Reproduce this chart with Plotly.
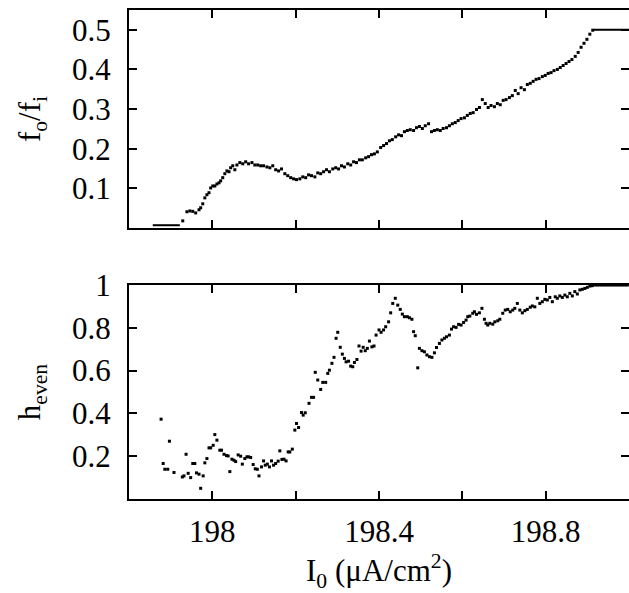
import plotly.graph_objects as go

# ---------------- data ----------------
top_x = [197.929, 197.939, 197.946, 197.953, 197.960, 197.968, 197.972, 197.977, 197.982, 197.987,
         197.992, 197.996, 198.001, 198.006, 198.011, 198.016, 198.020, 198.025, 198.030, 198.035,
         198.040, 198.044, 198.049, 198.054, 198.059, 198.066, 198.073, 198.080, 198.087, 198.095,
         198.102, 198.109, 198.116, 198.123, 198.131, 198.138, 198.145, 198.152, 198.159, 198.166,
         198.174, 198.181, 198.188, 198.195, 198.202, 198.210, 198.217, 198.224, 198.231, 198.238,
         198.246, 198.253, 198.260, 198.267, 198.274, 198.281, 198.289, 198.296, 198.303, 198.310,
         198.317, 198.325, 198.332, 198.339, 198.346, 198.353, 198.360, 198.368, 198.375, 198.382,
         198.389, 198.396, 198.404, 198.411, 198.418, 198.425, 198.432, 198.440, 198.447, 198.454,
         198.461, 198.468, 198.475, 198.483, 198.490, 198.497, 198.504, 198.511, 198.519, 198.526,
         198.533, 198.540, 198.547, 198.554, 198.562, 198.569, 198.576, 198.583, 198.590, 198.597,
         198.605, 198.612, 198.619, 198.626, 198.634, 198.641, 198.648, 198.655, 198.662, 198.669,
         198.677, 198.684, 198.691, 198.698, 198.705, 198.713, 198.720, 198.727, 198.734, 198.741,
         198.749, 198.756, 198.763, 198.770, 198.777, 198.784, 198.792, 198.799, 198.806, 198.813,
         198.820, 198.828, 198.835, 198.842, 198.849, 198.856, 198.863, 198.871, 198.878, 198.885,
         198.892, 198.899, 198.906, 198.913]
top_y = [0.018, 0.041, 0.043, 0.042, 0.038, 0.046, 0.051, 0.061, 0.076, 0.084,
         0.089, 0.101, 0.106, 0.106, 0.111, 0.114, 0.119, 0.127, 0.137, 0.144,
         0.142, 0.152, 0.157, 0.147, 0.159, 0.165, 0.162, 0.167, 0.162, 0.165,
         0.159, 0.159, 0.157, 0.157, 0.154, 0.152, 0.157, 0.147, 0.144, 0.149,
         0.137, 0.132, 0.127, 0.124, 0.122, 0.124, 0.129, 0.127, 0.134, 0.132,
         0.129, 0.139, 0.137, 0.142, 0.147, 0.142, 0.149, 0.152, 0.149, 0.157,
         0.154, 0.162, 0.159, 0.167, 0.165, 0.172, 0.172, 0.177, 0.180, 0.185,
         0.187, 0.192, 0.203, 0.208, 0.213, 0.220, 0.223, 0.230, 0.235, 0.233,
         0.243, 0.246, 0.248, 0.246, 0.253, 0.256, 0.251, 0.258, 0.263, 0.243,
         0.246, 0.248, 0.246, 0.251, 0.253, 0.258, 0.263, 0.266, 0.271, 0.276,
         0.278, 0.284, 0.289, 0.291, 0.299, 0.304, 0.324, 0.314, 0.304, 0.309,
         0.306, 0.314, 0.311, 0.322, 0.324, 0.329, 0.334, 0.347, 0.339, 0.354,
         0.349, 0.362, 0.365, 0.370, 0.375, 0.377, 0.382, 0.385, 0.390, 0.392,
         0.397, 0.400, 0.405, 0.410, 0.415, 0.420, 0.425, 0.433, 0.443, 0.456,
         0.466, 0.476, 0.489, 0.499]
top_low_flat_x = [197.857, 197.922]
top_low_flat_y = [0.007, 0.007]
top_high_flat_x = [198.916, 199.0]
top_high_flat_y = [0.5, 0.5]

bot_x = [197.877, 197.882, 197.886, 197.893, 197.897, 197.908, 197.928, 197.932, 197.937, 197.942,
         197.948, 197.953, 197.958, 197.962, 197.968, 197.972, 197.978, 197.982, 197.987, 197.992,
         197.996, 198.002, 198.006, 198.011, 198.018, 198.022, 198.028, 198.034, 198.038, 198.042,
         198.047, 198.052, 198.056, 198.062, 198.068, 198.072, 198.078, 198.083, 198.087, 198.092,
         198.098, 198.103, 198.108, 198.112, 198.118, 198.123, 198.127, 198.132, 198.137, 198.142,
         198.147, 198.152, 198.158, 198.162, 198.167, 198.172, 198.177, 198.182, 198.186, 198.192,
         198.198, 198.202, 198.207, 198.214, 198.218, 198.223, 198.232, 198.238, 198.243, 198.247,
         198.253, 198.260, 198.265, 198.272, 198.277, 198.281, 198.287, 198.292, 198.297, 198.301,
         198.307, 198.312, 198.317, 198.321, 198.327, 198.332, 198.337, 198.341, 198.347, 198.352,
         198.357, 198.362, 198.367, 198.372, 198.377, 198.383, 198.388, 198.393, 198.400, 198.405,
         198.411, 198.416, 198.423, 198.428, 198.433, 198.439, 198.445, 198.451, 198.456, 198.461,
         198.468, 198.473, 198.479, 198.483, 198.487, 198.493, 198.497, 198.503, 198.509, 198.515,
         198.521, 198.527, 198.533, 198.538, 198.545, 198.551, 198.557, 198.562, 198.569, 198.574,
         198.579, 198.585, 198.591, 198.597, 198.603, 198.609, 198.613, 198.618, 198.625, 198.629,
         198.634, 198.641, 198.647, 198.653, 198.657, 198.661, 198.666, 198.673, 198.678, 198.685,
         198.690, 198.697, 198.703, 198.709, 198.715, 198.721, 198.726, 198.732, 198.738, 198.744,
         198.750, 198.756, 198.763, 198.768, 198.774, 198.780, 198.786, 198.792, 198.798, 198.804,
         198.810, 198.816, 198.823, 198.828, 198.834, 198.840, 198.846, 198.852, 198.858, 198.864,
         198.870, 198.876, 198.882, 198.888, 198.894, 198.900, 198.906, 198.912, 198.918, 198.924,
         198.930, 198.936, 198.942, 198.948, 198.954, 198.960, 198.966, 198.972, 198.978, 198.984,
         198.990, 198.996]
bot_y = [0.373, 0.166, 0.139, 0.139, 0.270, 0.124, 0.103, 0.108, 0.209, 0.120,
         0.100, 0.166, 0.166, 0.122, 0.116, 0.050, 0.108, 0.169, 0.189, 0.239,
         0.239, 0.251, 0.301, 0.275, 0.228, 0.228, 0.209, 0.203, 0.201, 0.128,
         0.186, 0.181, 0.175, 0.206, 0.200, 0.163, 0.189, 0.197, 0.197, 0.194,
         0.161, 0.141, 0.139, 0.108, 0.150, 0.178, 0.158, 0.163, 0.150, 0.178,
         0.158, 0.166, 0.177, 0.225, 0.185, 0.186, 0.178, 0.220, 0.220, 0.233,
         0.322, 0.353, 0.334, 0.404, 0.392, 0.403, 0.447, 0.475, 0.475, 0.592,
         0.556, 0.512, 0.545, 0.545, 0.587, 0.602, 0.634, 0.662, 0.751, 0.779,
         0.709, 0.677, 0.657, 0.641, 0.644, 0.621, 0.618, 0.638, 0.652, 0.715,
         0.691, 0.709, 0.693, 0.704, 0.738, 0.711, 0.715, 0.766, 0.790, 0.779,
         0.790, 0.805, 0.828, 0.870, 0.914, 0.938, 0.906, 0.886, 0.864, 0.852,
         0.852, 0.847, 0.840, 0.782, 0.763, 0.613, 0.704, 0.693, 0.688, 0.673,
         0.665, 0.662, 0.683, 0.708, 0.727, 0.743, 0.751, 0.758, 0.766, 0.794,
         0.805, 0.802, 0.816, 0.813, 0.825, 0.836, 0.852, 0.855, 0.868, 0.875,
         0.863, 0.870, 0.891, 0.840, 0.821, 0.813, 0.821, 0.817, 0.828, 0.833,
         0.840, 0.868, 0.883, 0.886, 0.875, 0.883, 0.891, 0.914, 0.883, 0.870,
         0.880, 0.886, 0.896, 0.902, 0.898, 0.938, 0.914, 0.922, 0.933, 0.930,
         0.942, 0.922, 0.945, 0.938, 0.949, 0.942, 0.953, 0.945, 0.961, 0.949,
         0.969, 0.958, 0.977, 0.980, 0.984, 0.989, 0.995, 0.997, 1.0, 1.0,
         1.0, 1.0, 1.0, 1.0, 1.0, 1.0, 1.0, 1.0, 1.0, 1.0,
         1.0, 1.0]

x_tickvals = [198.0, 198.2, 198.4, 198.6, 198.8]
x_ticktext = ["198", "", "198.4", "", "198.8"]
top_tickvals = [0.1, 0.2, 0.3, 0.4, 0.5]
top_ticktext = ["0.1", "0.2", "0.3", "0.4", "0.5"]
bot_tickvals = [0.2, 0.4, 0.6, 0.8, 1.0]
bot_ticktext = ["0.2", "0.4", "0.6", "0.8", "1"]

FONT = "Liberation Serif"
FS = 31

marker = dict(symbol="square", size=3, color="black", line=dict(width=0))

fig = go.Figure()
fig.add_trace(go.Scatter(x=top_x, y=top_y, mode="markers", marker=marker, xaxis="x", yaxis="y"))
fig.add_trace(go.Scatter(x=top_low_flat_x, y=top_low_flat_y, mode="lines",
                         line=dict(color="black", width=2), xaxis="x", yaxis="y"))
fig.add_trace(go.Scatter(x=top_high_flat_x, y=top_high_flat_y, mode="lines",
                         line=dict(color="black", width=2), xaxis="x", yaxis="y"))
fig.add_trace(go.Scatter(x=bot_x, y=bot_y, mode="markers", marker=marker, xaxis="x2", yaxis="y2"))
# empty traces to carry the right-hand tick axes
fig.add_trace(go.Scatter(x=[], y=[], xaxis="x", yaxis="y3"))
fig.add_trace(go.Scatter(x=[], y=[], xaxis="x2", yaxis="y4"))

xcommon = dict(range=[197.8, 199.0], tickvals=x_tickvals, ticktext=x_ticktext,
               ticks="inside", ticklen=8, tickwidth=2, tickcolor="black",
               showline=True, linewidth=2, linecolor="black", mirror="ticks",
               showgrid=False, zeroline=False, domain=[0, 1], automargin=False,
               tickfont=dict(family=FONT, size=FS, color="black"))
ycommon = dict(ticks="inside", ticklen=8, tickwidth=2, tickcolor="black",
               showline=True, linewidth=2, linecolor="black", mirror=False,
               showgrid=False, zeroline=False, automargin=False,
               tickfont=dict(family=FONT, size=FS, color="black"),
               ticklabelstandoff=10)
yright = dict(ticks="inside", ticklen=8, tickwidth=2, tickcolor="black",
              showline=False, showticklabels=False, showgrid=False, zeroline=False,
              side="right", automargin=False)

fig.update_layout(
    width=629, height=593,
    margin=dict(l=129, r=0, t=10, b=94, autoexpand=False),
    paper_bgcolor="white", plot_bgcolor="white",
    showlegend=False,
    font=dict(family=FONT, size=FS, color="black"),
    xaxis=dict(**xcommon, anchor="y", showticklabels=False),
    xaxis2=dict(**xcommon, anchor="y2", matches="x", ticklabelstandoff=4,
                title=dict(text="I<sub>0</sub> (μA/cm<sup>2</sup>)",
                           font=dict(family=FONT, size=FS), standoff=12)),
    yaxis=dict(**ycommon, anchor="x", domain=[0.5542, 1.0], range=[0, 0.55],
               tickvals=top_tickvals, ticktext=top_ticktext,
               title=dict(text="f<sub>o</sub>/f<sub>i</sub>", font=dict(family=FONT, size=FS), standoff=22)),
    yaxis2=dict(**ycommon, anchor="x2", domain=[0, 0.4376], range=[0, 1.0],
                tickvals=bot_tickvals, ticktext=bot_ticktext,
                title=dict(text="h<sub>even</sub>", font=dict(family=FONT, size=FS), standoff=22)),
    yaxis3=dict(**yright, overlaying="y", anchor="x", range=[0, 0.55], tickvals=top_tickvals),
    yaxis4=dict(**yright, overlaying="y2", anchor="x2", range=[0, 1.0], tickvals=bot_tickvals),
)

fig.write_html("out.html")
